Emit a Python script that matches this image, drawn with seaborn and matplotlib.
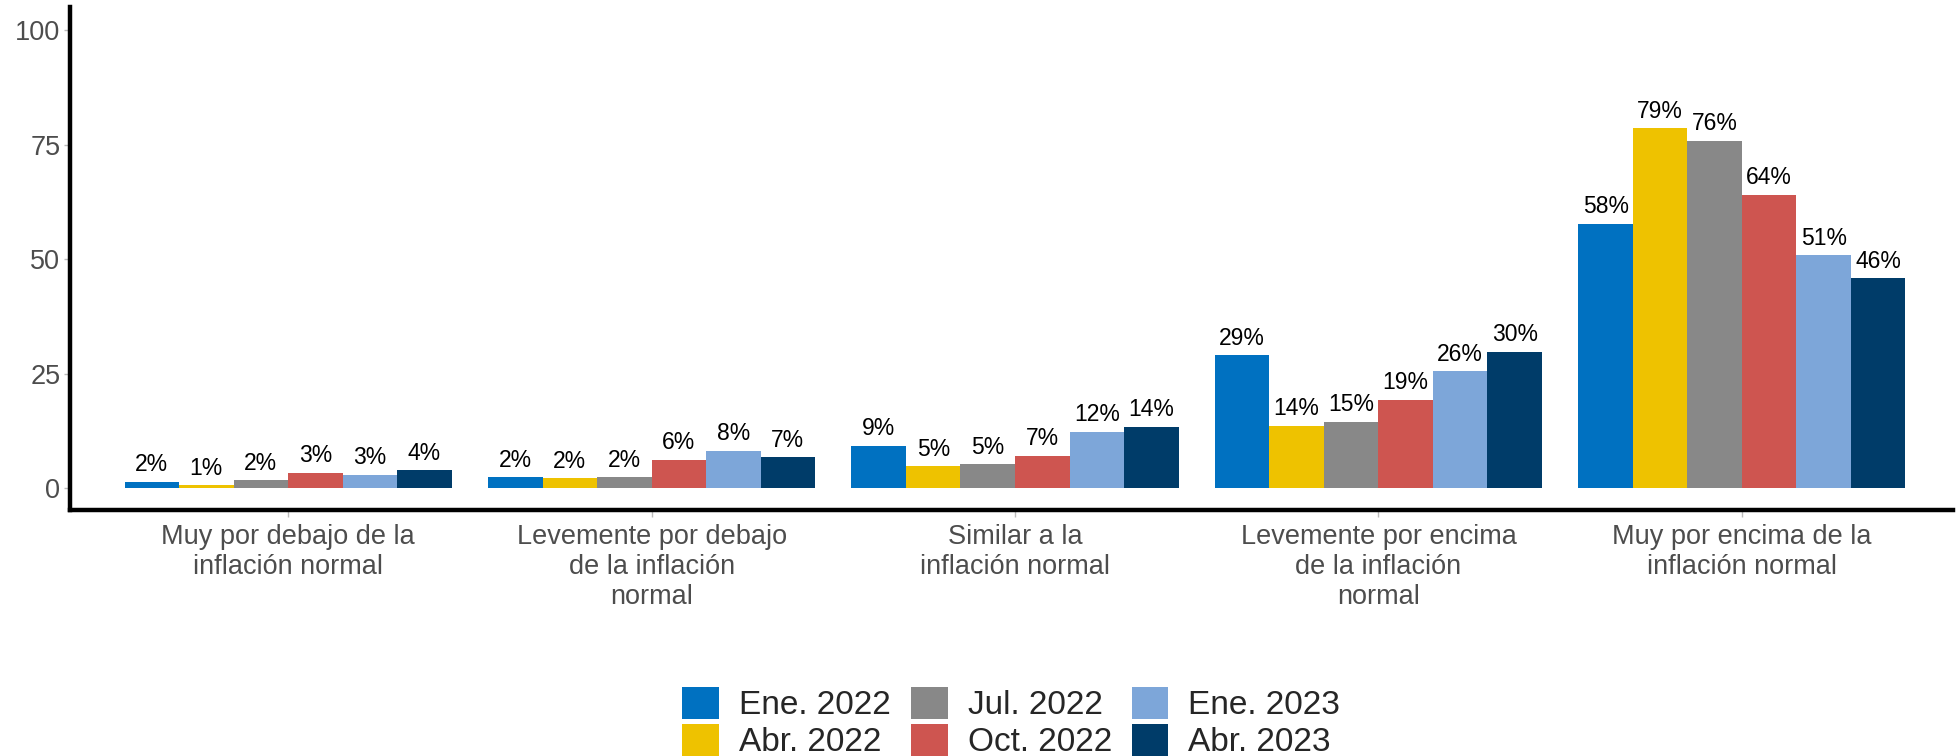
import matplotlib
matplotlib.use("Agg")
import matplotlib.pyplot as plt
import seaborn as sns
import pandas as pd

# Survey categories (x axis)
categories = [
    "Muy por debajo de la\ninflación normal",
    "Levemente por debajo\nde la inflación\nnormal",
    "Similar a la\ninflación normal",
    "Levemente por encima\nde la inflación\nnormal",
    "Muy por encima de la\ninflación normal",
]

# Survey waves (hue)
waves = ["Ene. 2022", "Abr. 2022", "Jul. 2022", "Oct. 2022", "Ene. 2023", "Abr. 2023"]

# Share of respondents (%) per wave, one value per category
ene_2022 = [1.5, 2.4, 9.3, 29.0, 57.7]
abr_2022 = [0.7, 2.2, 4.8, 13.7, 78.6]
jul_2022 = [1.8, 2.4, 5.3, 14.6, 75.8]
oct_2022 = [3.4, 6.2, 7.1, 19.3, 64.0]
ene_2023 = [3.0, 8.2, 12.4, 25.6, 50.9]
abr_2023 = [4.0, 6.8, 13.5, 29.8, 45.8]

series = [ene_2022, abr_2022, jul_2022, oct_2022, ene_2023, abr_2023]
colors = ["#0071C1", "#EEC200", "#888888", "#CE5550", "#7DA6D9", "#003C69"]

rows = []
for wave, vals in zip(waves, series):
    for cat, v in zip(categories, vals):
        rows.append({"categoria": cat, "ola": wave, "valor": v})
df = pd.DataFrame(rows)

sns.set_theme(style="white")
plt.rcParams["font.family"] = ["Liberation Sans", "DejaVu Sans"]

fig = plt.figure(figsize=(19.57, 7.56), dpi=100)
ax = fig.add_axes([0.0358, 0.3254, 0.962, 0.6653])

sns.barplot(
    data=df, x="categoria", y="valor", hue="ola",
    order=categories, hue_order=waves, palette=colors,
    width=0.9, gap=0, linewidth=0, saturation=1, errorbar=None, ax=ax,
)

for container in ax.containers:
    ax.bar_label(container, labels=[f"{round(b.get_height())}%" for b in container],
                 padding=4, fontsize=16.5, color="black")

ax.set_ylim(-4.7, 105)
ax.set_xlim(-0.6, 4.58)
ax.set_yticks([0, 25, 50, 75, 100])
ax.tick_params(axis="y", labelsize=19.5, labelcolor="#4D4D4D", length=4, width=1,
               color="#BBBBBB", left=True, pad=3)
ax.tick_params(axis="x", labelsize=19.5, labelcolor="#4D4D4D", length=5, width=1,
               color="#BBBBBB", bottom=True, pad=5)
for lbl in ax.get_xticklabels():
    lbl.set_linespacing(1.2)

ax.set_xlabel("")
ax.set_ylabel("")
for side in ["top", "right"]:
    ax.spines[side].set_visible(False)
for side in ["left", "bottom"]:
    ax.spines[side].set_color("black")
    ax.spines[side].set_linewidth(3.2)

leg = ax.legend(
    loc="center", bbox_to_anchor=(0.5, -0.422), ncol=3, frameon=False,
    fontsize=24, handlelength=1.1, handleheight=1.1, handletextpad=0.6,
    columnspacing=0.6, labelspacing=0.08, borderaxespad=0, borderpad=0,
)

fig.savefig("out.png", dpi=100, facecolor="white")
